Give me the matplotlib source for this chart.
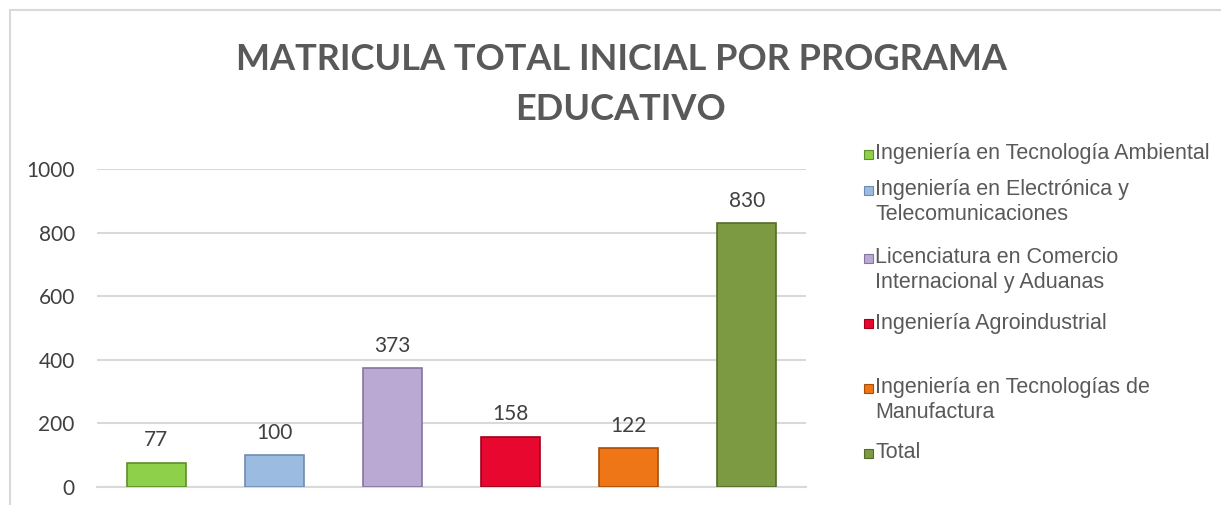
import matplotlib
matplotlib.use("Agg")
import matplotlib.pyplot as plt
from matplotlib.patches import Rectangle

categories = [
    "Ingeniería en Tecnología Ambiental",
    "Ingeniería en Electrónica y\nTelecomunicaciones",
    "Licenciatura en Comercio\nInternacional y Aduanas",
    "Ingeniería Agroindustrial",
    "Ingeniería en Tecnologías de\nManufactura",
    "Total",
]
values = [77, 100, 373, 158, 122, 830]
colors = ["#8ED04A", "#9BBBE0", "#B9A9D3", "#E8072E", "#EE7616", "#7C9A42"]
edges = ["#5E8F2A", "#6F8CB0", "#85759E", "#A0001C", "#A84E08", "#556B2A"]
yticks = [0, 200, 400, 600, 800, 1000]
title_lines = ["MATRICULA TOTAL INICIAL POR PROGRAMA", "EDUCATIVO"]

W, H = 1221, 505
fig = plt.figure(figsize=(W / 100, H / 100), dpi=100)
fig.patch.set_facecolor("white")

# chart frame (left and top edges visible)
fig.patches.append(Rectangle((10 / W, -0.1), 1.2, 1 - 10 / H + 0.1, transform=fig.transFigure,
                             fill=False, edgecolor="#D9D9D9", linewidth=1.5))

ax = fig.add_axes([97 / W, (H - 487) / H, (806 - 97) / W, (487 - 169) / H])
x = list(range(len(values)))
bars = ax.bar(x, values, width=0.5, color=colors, edgecolor=edges, linewidth=1.2, zorder=3)
for xi, v in zip(x, values):
    ax.annotate(str(v), (xi, v), xytext=(0, 9), textcoords="offset points",
                ha="center", va="bottom", fontsize=15, color="#404040", family="Lato")

ax.set_xlim(-0.5, len(values) - 0.5)
ax.set_ylim(0, 1000)
ax.set_yticks(yticks)
ax.set_yticklabels([str(t) for t in yticks], fontsize=15, color="#404040", family="Lato")
ax.set_xticks([])
ax.tick_params(axis="y", length=0, pad=16)
ax.yaxis.grid(True, color="#D9D9D9", linewidth=1.5, zorder=0)
for s in ["top", "right", "left"]:
    ax.spines[s].set_visible(False)
ax.spines["bottom"].set_color("#D9D9D9")
ax.spines["bottom"].set_linewidth(1.5)

fig.text(621 / W, 1 - 60 / H, title_lines[0], ha="center", va="center",
         fontsize=26, fontweight="bold", color="#595959", family="Lato")
fig.text(621 / W, 1 - 110 / H, title_lines[1], ha="center", va="center",
         fontsize=26, fontweight="bold", color="#595959", family="Lato")

# legend, manually placed
leg_y = [154, 202, 270, 323, 400, 453]
for lab, c, e, yy in zip(categories, colors, edges, leg_y):
    nlines = lab.count("\n") + 1
    top_line = yy - (nlines - 1) * 12.5
    fig.patches.append(Rectangle((864 / W, 1 - (top_line + 5) / H), 9 / W, 9 / H,
                                 transform=fig.transFigure, facecolor=c, edgecolor=e, linewidth=0.8))
    fig.text(875 / W, 1 - yy / H, lab, ha="left", va="center", fontsize=15.5,
             color="#595959", family="Liberation Sans", linespacing=1.2)

fig.savefig("out.png", dpi=100)
